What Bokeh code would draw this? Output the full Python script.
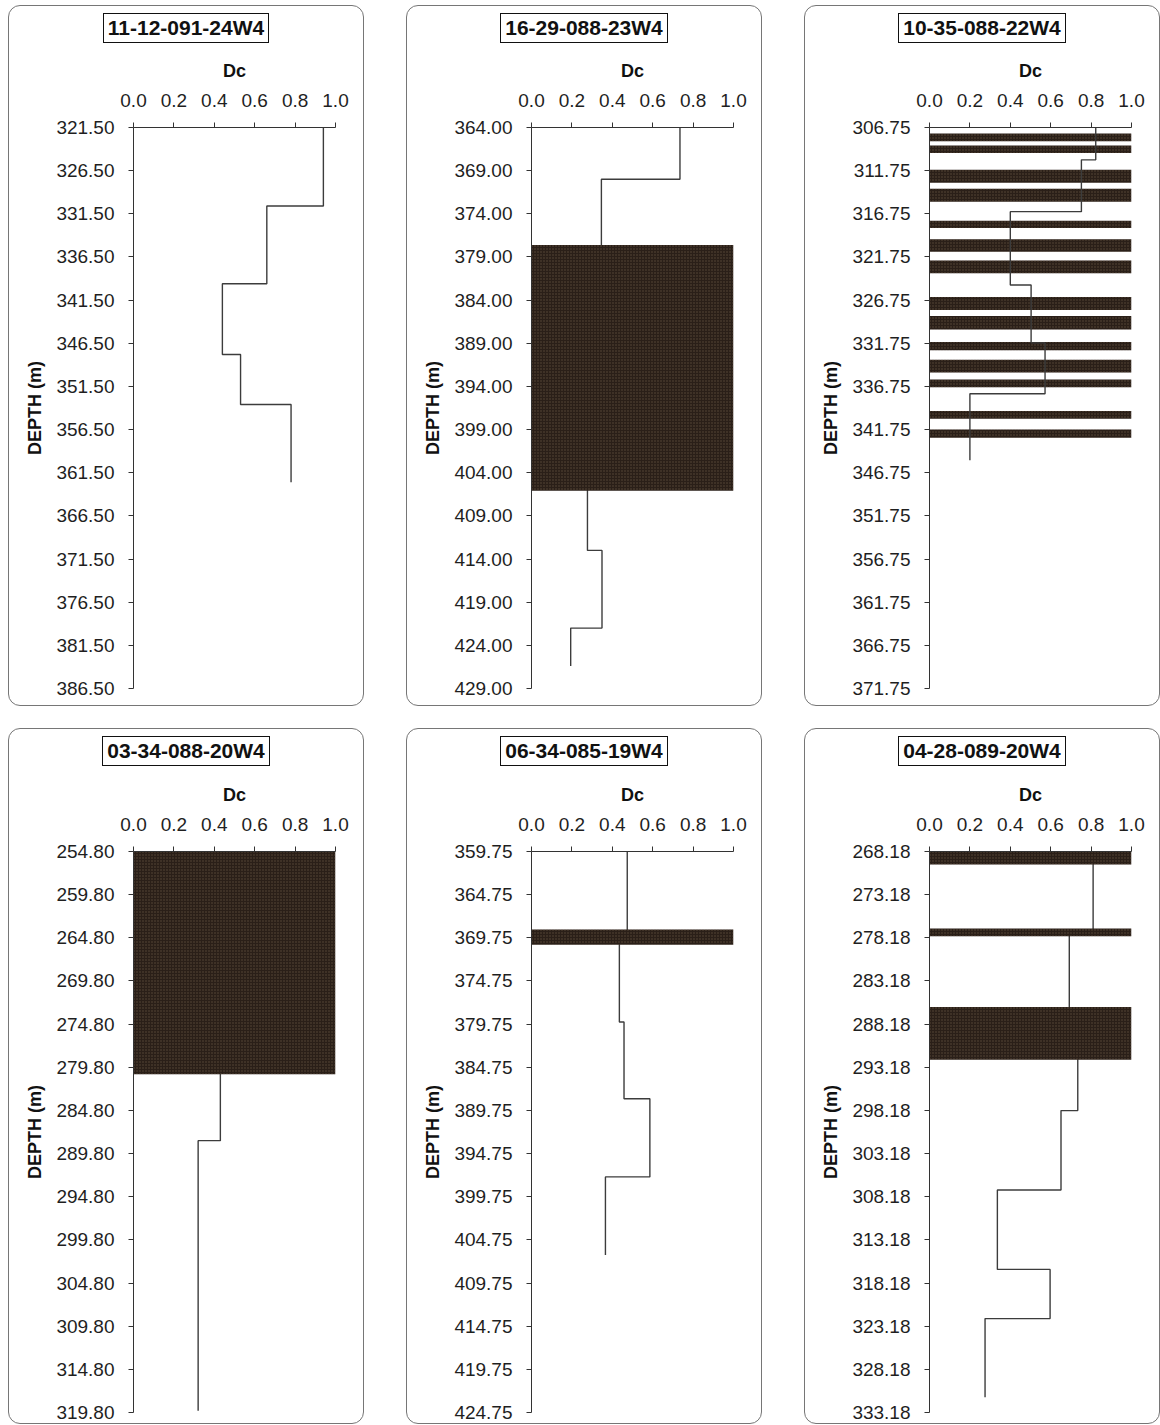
from bokeh.plotting import figure
from bokeh.models import Range1d, FixedTicker, PrintfTickFormatter, Div
from bokeh.layouts import row, column
from bokeh.embed import file_html
from bokeh.resources import INLINE

FONT = "Liberation Sans"

# ---------------- data ----------------
well_names = ["11-12-091-24W4", "16-29-088-23W4", "10-35-088-22W4",
              "03-34-088-20W4", "06-34-085-19W4", "04-28-089-20W4"]

x_ticks = [0.0, 0.2, 0.4, 0.6, 0.8, 1.0]

# axis top depth (m) of each log
axis_top = [321.50, 364.00, 306.75, 254.80, 359.75, 268.18]

# step log: interval boundaries (m) and Dc value of each interval
depth_A = [321.5, 330.6, 339.6, 347.8, 353.6, 362.6]
dc_A = [0.94, 0.66, 0.44, 0.53, 0.78]

depth_B = [364.0, 370.0, 392.0, 413.0, 422.0, 426.4]
dc_B = [0.735, 0.346, 0.277, 0.349, 0.194]

depth_C = [306.75, 310.5, 316.5, 325.0, 331.7, 337.6, 345.3]
dc_C = [0.823, 0.752, 0.40, 0.503, 0.572, 0.20]

depth_D = [254.8, 288.3, 319.6]
dc_D = [0.43, 0.32]

depth_E = [359.75, 369.7, 379.5, 388.4, 397.45, 406.5]
dc_E = [0.474, 0.435, 0.458, 0.586, 0.366]

depth_F = [268.18, 277.5, 289.3, 298.2, 307.4, 316.6, 322.3, 331.4]
dc_F = [0.81, 0.692, 0.734, 0.651, 0.336, 0.597, 0.275]

# coal seams (top, bottom) in m
seam_top_A, seam_bot_A = [], []
seam_top_B, seam_bot_B = [377.6], [406.1]
seam_top_C = [307.45, 308.85, 311.65, 313.85, 317.55, 319.7, 322.15,
              326.4, 328.6, 331.6, 333.65, 335.95, 339.6, 341.75]
seam_bot_C = [308.35, 309.7, 313.15, 315.35, 318.4, 321.15, 323.65,
              327.9, 330.15, 332.55, 335.15, 336.85, 340.5, 342.7]
seam_top_D, seam_bot_D = [254.8], [280.6]
seam_top_E, seam_bot_E = [368.8], [370.55]
seam_top_F, seam_bot_F = [268.18, 277.1, 286.2], [269.7, 278.0, 292.3]

depths = [depth_A, depth_B, depth_C, depth_D, depth_E, depth_F]
dcs = [dc_A, dc_B, dc_C, dc_D, dc_E, dc_F]
seam_tops = [seam_top_A, seam_top_B, seam_top_C, seam_top_D, seam_top_E, seam_top_F]
seam_bots = [seam_bot_A, seam_bot_B, seam_bot_C, seam_bot_D, seam_bot_E, seam_bot_F]
line_over_seams = [True, False, True, False, False, False]

DEPTH_SPAN = 65.0
DEPTH_STEP = 5.0

TEXT = "#1f1f1f"
AXIS = "#333333"
INNER_W = 354
TITLE_H = 46


def make_panel(i, fig_h, b_top, b_bot):
    top = axis_top[i]
    p = figure(width=INNER_W, height=fig_h, output_backend="svg", toolbar_location=None,
               x_range=Range1d(0, 1), y_range=Range1d(top + DEPTH_SPAN, top),
               x_axis_location="above",
               min_border_left=124, min_border_right=INNER_W - 124 - 202,
               min_border_top=b_top, min_border_bottom=b_bot)
    p.border_fill_color = None
    p.background_fill_color = None
    p.outline_line_color = None
    p.xgrid.visible = False
    p.ygrid.visible = False

    xa = p.xaxis[0]
    xa.ticker = FixedTicker(ticks=x_ticks)
    xa.formatter = PrintfTickFormatter(format="%.1f")
    xa.axis_label = "Dc"
    ya = p.yaxis[0]
    ya.ticker = FixedTicker(ticks=[top + DEPTH_STEP * k for k in range(14)])
    ya.formatter = PrintfTickFormatter(format="%.2f")
    ya.axis_label = "DEPTH (m)"
    for ax in (xa, ya):
        ax.axis_line_color = AXIS
        ax.major_tick_line_color = AXIS
        ax.major_tick_in = 0
        ax.major_tick_out = 5
        ax.minor_tick_line_color = None
        ax.major_label_text_font = FONT
        ax.major_label_text_font_size = "19px"
        ax.major_label_text_color = TEXT
        ax.axis_label_text_font = FONT
        ax.axis_label_text_font_size = "18px"
        ax.axis_label_text_font_style = "bold"
        ax.axis_label_text_color = "#111111"
    xa.major_label_standoff = 16
    xa.axis_label_standoff = 10
    ya.major_label_standoff = 14
    ya.axis_label_standoff = 8

    xs, ys = [], []
    for k, v in enumerate(dcs[i]):
        xs += [v, v]
        ys += [depths[i][k], depths[i][k + 1]]

    def draw_line():
        p.line(xs, ys, line_color="#3c3c3c", line_width=1.4)

    def draw_seams():
        if seam_tops[i]:
            p.quad(left=0, right=1, top=seam_tops[i], bottom=seam_bots[i],
                   fill_color="#2a1f18", line_color=None,
                   hatch_pattern="dot", hatch_color="#7a6650",
                   hatch_scale=3, hatch_weight=1, hatch_alpha=0.6)

    if line_over_seams[i]:
        draw_seams()
        draw_line()
    else:
        draw_line()
        draw_seams()

    title_html = (
        f'<div style="width:{INNER_W}px;text-align:center;margin:0;padding:0;">'
        f'<span style="display:inline-block;margin-top:7px;border:1px solid #111111;'
        f'padding:1px 4px;font-family:\'{FONT}\';font-size:21px;font-weight:bold;'
        f'color:#111111;line-height:26px;background:white;">{well_names[i]}</span></div>'
    )
    title = Div(text=title_html, width=INNER_W, height=TITLE_H,
                styles={"margin": "0", "padding": "0"})

    return column(title, p, spacing=0,
                  styles={"border": "1px solid #767676", "border-radius": "12px"})


top_row = [make_panel(i, 701 - 2 - TITLE_H, 121 - TITLE_H, 17) for i in range(3)]
bot_row = [make_panel(i, 696 - 2 - TITLE_H, 122 - TITLE_H, 11) for i in range(3, 6)]

layout = column(row(*top_row, spacing=42), row(*bot_row, spacing=42),
                spacing=22, styles={"margin-left": "8px", "margin-top": "5px"})

open("out.html", "w").write(file_html(layout, INLINE))
